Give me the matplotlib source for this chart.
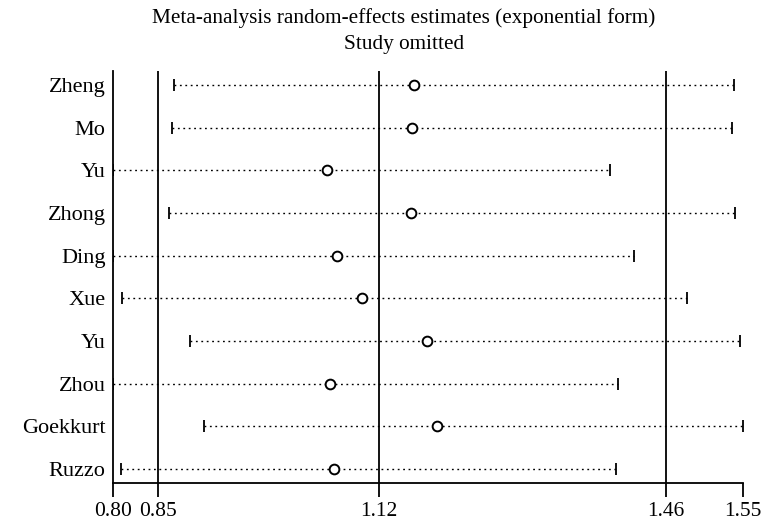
import numpy as np
import matplotlib
matplotlib.use("Agg")
import matplotlib.pyplot as plt

plt.rcParams["font.family"] = ["Liberation Serif", "DejaVu Serif"]

studies = ["Zheng", "Mo", "Yu", "Zhong", "Ding", "Xue", "Yu", "Zhou", "Goekkurt", "Ruzzo"]
estimate = [1.1575, 1.1551, 1.0547, 1.1536, 1.0658, 1.0953, 1.1722, 1.0582, 1.1847, 1.0629]
lower = [0.8731, 0.8707, 0.8012, 0.8675, 0.8010, 0.8116, 0.8927, 0.8011, 0.9093, 0.8108]
upper = [1.5354, 1.5339, 1.3896, 1.5366, 1.4180, 1.4798, 1.5425, 1.3986, 1.5464, 1.3956]

# overall random-effects estimate with its CI
overall_est = 1.1156
overall_low = 0.8549
overall_up = 1.4550

fig = plt.figure(figsize=(7.74, 5.29), dpi=100)
ax = fig.add_axes([0.1456, 0.087, 0.8144, 0.7788])

n = len(studies)
ypos = np.arange(n, 0, -1)

xmin = min(lower)
xmax = max(upper)

for v in [overall_low, overall_est, overall_up]:
    ax.axvline(v, color="black", linewidth=1.3, zorder=1)

for y, lo, est, up in zip(ypos, lower, estimate, upper):
    ax.plot([lo, up], [y, y], color="black", linewidth=1.0,
            linestyle=(0, (1.3, 2.6)), zorder=2)
    ax.plot([lo, up], [y, y], linestyle="none", marker="|",
            markersize=9, markeredgewidth=1.3, color="black", zorder=3)
    ax.plot(est, y, marker="o", markersize=7, markerfacecolor="white",
            markeredgecolor="black", markeredgewidth=1.4, zorder=4)

ax.set_xlim(xmin, xmax)
ax.set_ylim(0.67, n + 0.33)

xt = [xmin, overall_low, overall_est, overall_up, xmax]
ax.set_xticks(xt)
ax.set_xticklabels([f"{v:.2f}" for v in xt], fontsize=15.5)
ax.set_yticks(ypos)
ax.set_yticklabels(studies, fontsize=16)

ax.tick_params(axis="x", length=10, width=1.3, pad=4, colors="black")
ax.tick_params(axis="y", length=0, pad=5)

for s in ["top", "right"]:
    ax.spines[s].set_visible(False)
for s in ["left", "bottom"]:
    ax.spines[s].set_linewidth(1.3)

fig.text(0.522, 0.966, "Meta-analysis random-effects estimates (exponential form)",
         ha="center", va="center", fontsize=15.3)
fig.text(0.522, 0.915, "Study omitted", ha="center", va="center", fontsize=15.3)

plt.savefig("out.png", dpi=100)
